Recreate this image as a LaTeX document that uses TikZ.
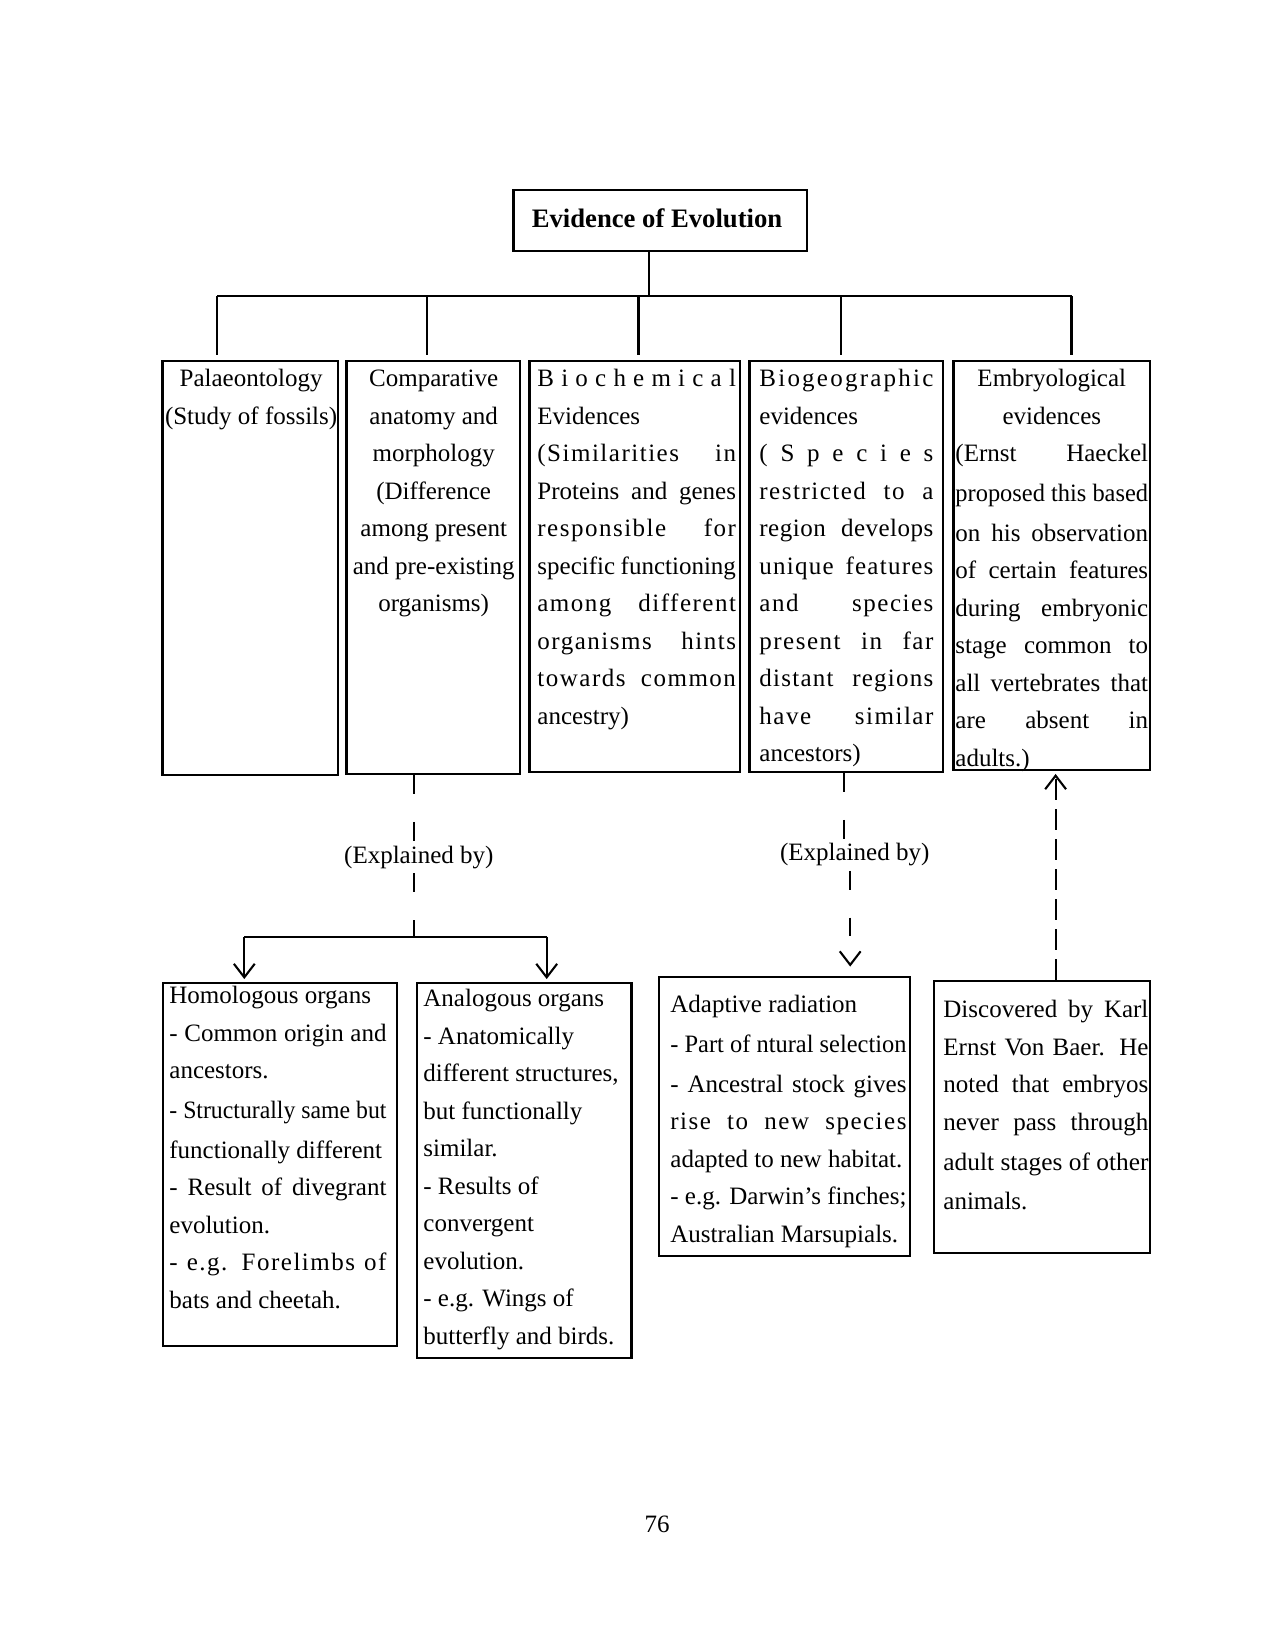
\documentclass[tikz,border=0pt]{standalone}
\usepackage{fontspec}
\setmainfont{Liberation Serif}
\usepackage{graphicx}
\usetikzlibrary{arrows.meta,fit}
\newcommand\NS{\spaceskip=0pt\xspaceskip=0pt\relax}
\newcommand\CL[1]{\makebox[\linewidth][c]{\NS\strut #1}}
\newcommand\JL[1]{\makebox[\linewidth][s]{\NS\strut #1}}
\newcommand\TL[2][6]{\makebox[\linewidth][s]{\addfontfeature{LetterSpace=#1}\NS\strut #2}}
\newcommand\LL[1]{\mbox{\NS\strut #1}}
\newcommand\SQ[1]{\resizebox{\linewidth}{\height}{\NS\strut #1}}
\tikzset{
  bx/.style={draw, line width=1pt, inner sep=0pt},
  txt/.style={inner sep=0pt, anchor=north west, align=left, font=\fontsize{12}{18}\selectfont},
  ln/.style={line width=1pt},
  dsh/.style={line width=1pt, dash pattern=on 9pt off 13.5pt},
  dshb/.style={line width=1pt, dash pattern=on 9.9pt off 4.5pt},
  arr/.style={-{Straight Barb[length=6.5pt,width=10pt]}},
  lbl/.style={inner sep=2pt, font=\fontsize{12}{14}\selectfont},
}
\begin{document}
\begin{tikzpicture}[x=0.48pt,y=-0.48pt]
\fill[white] (0,0) rectangle (1275,1651);
\useasboundingbox (0,0) rectangle (1275,1651);

% title
\node[bx, fit={(513.5,190) (807,251)}] (title) {};
\node[inner sep=0pt, anchor=base, font=\fontsize{12.8}{15}\selectfont\bfseries] (ttl) at (657,227.5) {Evidence of Evolution};

% top boxes
\node[bx, fit={(162.5,361.4) (338,775)}] (b1) {};
\node[bx, fit={(346.5,361.4) (520,774)}] (b2) {};
\node[bx, fit={(529.5,361.4) (740,772)}] (b3) {};
\node[bx, fit={(749.5,361.4) (943,772)}] (b4) {};
\node[bx, fit={(953.5,361.4) (1150,770)}] (b5) {};

\node[txt, text width=84.2pt] (t1) at (163,360.3) {\CL{Palaeontology}\\\CL{(Study of fossils)}};
\node[txt, text width=83.3pt] (t2) at (346.5,360.3) {\CL{Comparative}\\\CL{anatomy and}\\\CL{morphology}\\\CL{(Difference}\\\CL{among present}\\\CL{and pre-existing}\\\CL{organisms)}};
\node[txt, text width=95.3pt] (t3) at (537,360.3) {\JL{B\hfil i\hfil o\hfil c\hfil h\hfil e\hfil m\hfil i\hfil c\hfil a\hfil l}\\
\LL{Evidences}\\
\TL{(Similarities in}\\
\JL{Proteins and genes}\\
\TL{responsible for}\\
\JL{specific functioning}\\
\TL{among different}\\
\TL{organisms hints}\\
\TL{towards common}\\
\LL{ancestry)}};
\node[txt, text width=83.5pt] (t4) at (759,360.3) {\JL{B\hfil i\hfil o\hfil g\hfil e\hfil o\hfil g\hfil r\hfil a\hfil p\hfil h\hfil i\hfil c}\\
\LL{evidences}\\
\JL{(\hfil S\hfil p\hfil e\hfil c\hfil i\hfil e\hfil s}\\
\TL{restricted to a}\\
\TL[2]{region develops}\\
\TL[5]{unique features}\\
\TL{and species}\\
\TL{present in far}\\
\TL[5]{distant regions}\\
\TL{have similar}\\
\LL{ancestors)}};
\node[txt, text width=92.5pt] (t5) at (955,360.3) {\CL{Embryological}\\
\CL{evidences}\\
\JL{(Ernst Haeckel}\\
\SQ{proposed this based}\\
\JL{on his observation}\\
\JL{of certain features}\\
\JL{during embryonic}\\
\JL{stage common to}\\
\JL{all vertebrates that}\\
\JL{are absent in}\\
\LL{adults.)}};

% tree connectors
\coordinate (bus) at (649.4,296);
\coordinate (d1) at (217,296);
\coordinate (d2) at (426.8,296);
\coordinate (d3) at (638.5,296);
\coordinate (d4) at (840.7,296);
\coordinate (d5) at (1071.5,296);
\draw[ln] (title.south -| bus) -- (bus);
\draw[ln] (d1) -- (d5);
\draw[ln, shorten >=2.8pt] (d1) -- (d1 |- b1.north);
\draw[ln, shorten >=2.8pt] (d2) -- (d2 |- b2.north);
\draw[ln, shorten >=2.8pt] (d3) -- (d3 |- b3.north);
\draw[ln, shorten >=2.8pt] (d4) -- (d4 |- b4.north);
\draw[ln, shorten >=2.8pt] (d5) -- (d5 |- b5.north);

% bottom boxes
\node[bx, fit={(162.8,983) (397.4,1346.3)}] (b6) {};
\node[bx, fit={(416.6,983) (631.5,1358)}] (b7) {};
\node[bx, fit={(659,977.4) (910.2,1256)}] (b8) {};
\node[bx, fit={(934.4,981) (1150,1253)}] (b9) {};

\node[txt, text width=104.2pt] (t6) at (169,977.3) {\LL{Homologous organs}\\
\JL{- Common origin and}\\
\LL{ancestors.}\\
\SQ{- Structurally same but}\\
\LL{functionally different}\\
\JL{- Result of divegrant}\\
\LL{evolution.}\\
\TL{- e.g. Forelimbs of}\\
\LL{bats and cheetah.}};
\node[txt, text width=100pt] (t7) at (423,980.3) {\LL{Analogous organs}\\
\LL{- Anatomically}\\
\LL{different structures,}\\
\LL{but functionally}\\
\LL{similar.}\\
\LL{- Results of}\\
\LL{convergent}\\
\LL{evolution.}\\
\LL{- e.g. Wings of}\\
\LL{butterfly and birds.}};
\node[txt, text width=113.3pt] (t8) at (670,986.3) {\LL{Adaptive radiation}\\
\SQ{- Part of ntural selection}\\
\JL{- Ancestral stock gives}\\
\TL{rise to new species}\\
\LL{adapted to new habitat.}\\
\JL{- e.g. Darwin’s finches;}\\
\LL{Australian Marsupials.}};
\node[txt, text width=98.4pt] (t9) at (943,991.3) {\JL{Discovered by Karl}\\
\JL{Ernst Von Baer. He}\\
\JL{noted that embryos}\\
\JL{never pass through}\\
\SQ{adult stages of other}\\
\LL{animals.}};

% explained-by connectors (left)
\node[lbl] (l1) at (418.8,857.3) {(Explained by)};
\coordinate (e1) at (413.7,936.7);
\coordinate (h1) at (244.3,936.7);
\coordinate (h2) at (546.7,936.7);
\draw[dsh] (b2.south -| e1) -- (e1 |- l1.north);
\draw[dsh] (e1 |- l1.south) -- (e1);
\draw[ln] (h1) -- (h2);
\draw[ln, arr, shorten >=1.4pt] (h1) -- (h1 |- b6.north);
\draw[ln, arr, shorten >=1.4pt] (h2) -- (h2 |- b7.north);

% explained-by connectors (right)
\node[lbl] (l2) at (854.7,854.8) {(Explained by)};
\coordinate (r1) at (843.9,800);
\coordinate (r2) at (850.2,900);
\draw[dsh] (b4.south -| r1) -- (r1 |- l2.north);
\draw[dsh, arr, shorten >=4.7pt] (r2 |- l2.south) -- (r2 |- b8.north);

% embryological up arrow
\coordinate (u1) at (1055.6,900);
\draw[dshb, arr, shorten >=1.4pt] (b9.north -| u1) -- (u1 |- b5.south);

% page number
\node[inner sep=0pt, anchor=base, font=\fontsize{12}{14}\selectfont] (pg) at (657,1532) {76};
\end{tikzpicture}
\end{document}
